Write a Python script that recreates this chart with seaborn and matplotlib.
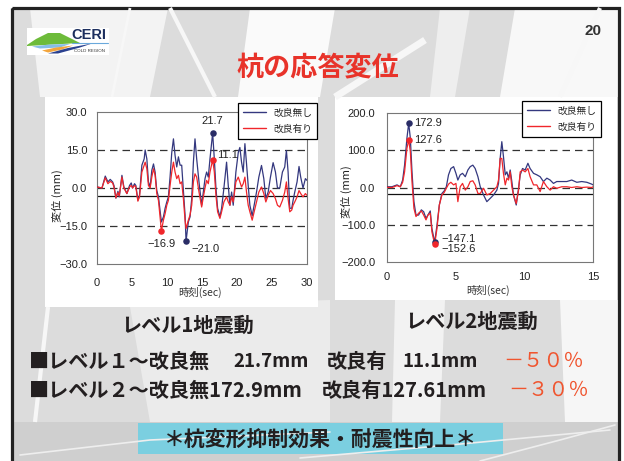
import numpy as np
import pandas as pd
import matplotlib
matplotlib.use("Agg")
import matplotlib.pyplot as plt
import seaborn as sns
from matplotlib.patches import Polygon, Rectangle
from matplotlib.lines import Line2D

# ---------------- data ----------------
series_names = ["改良無し", "改良有り"]

time_lv1 = [0.00, 0.71, 1.18, 1.56, 1.89, 2.23, 2.42, 2.70, 2.99, 3.18, 3.56, 3.84, 4.27, 4.65, 4.89,
            5.08, 5.36, 5.55, 5.84, 6.07, 6.41, 6.74, 6.88, 7.12, 7.35, 7.59, 7.83, 8.07, 8.30, 8.54,
            8.78, 9.20, 9.49, 9.73, 9.97, 10.20, 10.44, 10.68, 10.92, 11.15, 11.39, 11.63, 11.87,
            12.10, 12.34, 12.58, 12.72, 13.05, 13.29, 13.53, 13.77, 14.00, 14.24, 14.57,
            14.95, 15.19, 15.43, 15.66, 15.90, 16.14, 16.52, 16.76, 16.99, 17.23, 17.56, 17.80,
            18.13, 18.51, 18.75, 18.99, 19.23, 19.46, 19.84, 20.18, 20.41, 20.65, 20.89, 21.13,
            21.36, 21.60, 21.84, 22.17, 22.45, 22.79, 23.12, 23.50, 23.83, 24.12, 24.45, 24.78,
            25.16, 25.49, 25.78, 26.11, 26.49, 26.82, 27.06, 27.30, 27.54, 27.82, 28.01, 28.25,
            28.58, 28.86, 29.10, 29.43, 29.77, 30.00]
no_improve_lv1 = [0.4, 0, 4.7, 2.4, 3.4, 2.4, 1, -4, -1.3, -3.5, 5, 0.4, -2.2, 1, 2, 0, 1.7, 1, -4.8,
                  -2.9, 9, 11.5, 15, 11.5, 2.4, 0.4, 7, 9.5, 6.3, -1, -3.5, -13.4, -11.4, -8, -5.5,
                  -3.5, 4.4, 14, 19.4, 12.9, 8.3, 12.3, 9, 9, -1, -10.7, -21.0, -13.4, -11.4, -4.2,
                  10.2, 19.4, 11.5, 2.4,
                  -6.8, -1.6, 3.7, 6.3, 4.3, 11.5, 21.7, 11.5, 0, -8, -11.4, -8, 0, 10.2, 1, -6.8,
                  -1.6, -6.8, 6.3, 14, 16, 10.2, 6.3, 17.5, 9.6, 1, -6.8, -11, -6.8, -1.6, 4.3, 8.9,
                  3.7, -4.2, -1.6, 4.3, 10, 6.3, 0, 0, 6.3, 8.3, 14.8, 6.3, -8, -8, -4.9, -1.6, 2.4,
                  8.5, 4.3, 0, 3.7, 3]
improved_lv1 = [0.4, 0, 4, 1.7, 2.6, 2, 0.4, -3.9, -1.8, -3.1, 4.3, 0, -2.2, 0.4, 1, 0, 1, 0.4, -5.2,
                -3.5, 6.3, 9, 10.2, 7.6, 1, 0, 4.3, 7.6, 5, -2.2, -4.9, -16.9, -12.7, -10.1, -6.8,
                -4.9, 1, 6.3, 10.2, 6.3, 3.7, 5, 1.7, 2.4, -4.2, -12.7, -16, -12.7, -10.7, -6.8,
                2.4, 5.6, 4.3, -1.6,
                -7.5, -3.5, 0, 3, 1.7, 6.3, 11.1, 6.3, -2.9, -9.4, -12, -9.4, -5.5, -3.5, -5.5,
                -6.8, -3.5, -5.5, 2.4, 4.3, 2.4, 0.4, 1.7, 4.3, -1.6, -6.8, -9.4, -12.7, -9.4, -5.5,
                -1.6, 0.4, -2.2, -5.5, -2.9, -1, -2.2, -4.2, -6.8, -7.5, -4.9, -1.6, 2.4, -4.2,
                -9.4, -8.7, -6.8, -5.5, -3.5, -1, -2.2, -3.5, -2.2, -2.9]

time_lv2 = [0.00, 0.36, 0.73, 0.97, 1.14, 1.28, 1.45, 1.58, 1.70, 1.82, 1.96, 2.11, 2.30, 2.50, 2.67,
            2.84, 2.98, 3.15, 3.27, 3.47, 3.64, 3.81, 4.00, 4.17, 4.32, 4.48, 4.65, 4.85, 5.02, 5.16,
            5.33, 5.50, 5.70, 5.89, 6.06, 6.25, 6.42, 6.62, 6.79, 7.03, 7.27, 7.52, 7.76, 8.00, 8.12,
            8.24, 8.36, 8.48, 8.61, 8.73, 8.85, 8.97, 9.09, 9.21, 9.41, 9.58, 9.70, 9.87, 10.06,
            10.26, 10.42, 10.67, 10.91, 11.15, 11.39, 11.64, 11.88, 12.12, 12.36, 12.73, 13.09,
            13.45, 13.82, 14.18, 14.55, 14.91, 15.00]
no_improve_lv2 = [2, 2, 7, 2, 20, 60, 132, 172.9, 132, 42,
                  -38, -74, -74, -60, -65, -83, -74, -63, -110, -147.1,
                  -101, -47, -16, -9, 2, 34, 51, 56, 38, 20,
                  34, 38, 29, 47, 56, 60, 51, 29, 2, -20,
                  -38, -29, -20, -7, 11, 78, 123, 83, 34, 42,
                  25, 47, 16, -20, -47, -2, 34, 51, 47, 65,
                  51, 38, 34, 29, 16, 25, 20, 11, 16, 16,
                  16, 20, 14, 16, 14, 9, 7]
improved_lv2 = [0.5, 0, 5, 2, 14, 42, 105, 127.6, 96, 16,
                -56, -78, -69, -63, -74, -87, -74, -69, -119, -152.6,
                -110, -47, -20, -13, -2, 9, 14, 7, 11, -38,
                2, 11, -7, 2, 16, 18, 7, -16, -16, -2,
                -20, -16, -7, 2, 20, 78, 78, 38, 7, 25,
                20, 42, 2, -20, -43, -7, 42, 47, 42, 51,
                29, 7, 7, -11, 16, 2, -7, 2, -2, 2,
                2, 0, 2, 0, 1, 0, 2]

yticks_lv1 = [-30, -15, 0, 15, 30]
xticks_lv1 = [0, 5, 10, 15, 20, 25, 30]
yticks_lv2 = [-200, -100, 0, 100, 200]
xticks_lv2 = [0, 5, 10, 15]
axis_cross_lv1 = -3.2
axis_cross_lv2 = -17.5

title_text = "杭の応答変位"
page_no = "20"
chart_titles = ["レベル1地震動", "レベル2地震動"]
x_label = "時刻(sec)"
y_label = "変位 (mm)"
summary_1 = ["■レベル１～改良無", "21.7mm", "改良有", "11.1mm", "－５０％"]
summary_2 = ["■レベル２～改良無172.9mm", "改良有127.61mm", "－３０％"]
footer_text = "＊杭変形抑制効果・耐震性向上＊"

# ---------------- style ----------------
sns.set_theme(style="white")
plt.rcParams["font.family"] = ["Liberation Sans", "Noto Sans CJK JP"]
JP = ["Noto Sans CJK JP", "DejaVu Sans"]
BLUE = "#34387f"
BLUE_DOT = "#2a2d66"
RED = "#f0262b"
palette = {series_names[0]: BLUE, series_names[1]: RED}

W, H = 624, 461
fig = plt.figure(figsize=(W / 100, H / 100), dpi=100)
fig.patch.set_facecolor("white")

bg = fig.add_axes([0, 0, 1, 1], zorder=0)
bg.set_xlim(0, W)
bg.set_ylim(H, 0)
bg.axis("off")

# slide background
bg.add_patch(Rectangle((11, 8), 608, 414, color="#dcdcdc", lw=0))
for pts, col in [
    ([(30, 8), (168, 8), (150, 97), (40, 97)], "#f3f3f3"),
    ([(250, 8), (335, 8), (320, 97), (238, 97)], "#fafafa"),
    ([(440, 8), (470, 8), (455, 97), (430, 97)], "#eeeeee"),
    ([(515, 8), (619, 8), (619, 97), (500, 97)], "#f8f8f8"),
    ([(130, 307), (330, 300), (330, 422), (150, 422)], "#ebebeb"),
    ([(395, 300), (445, 300), (440, 422), (392, 422)], "#f2f2f2"),
    ([(560, 300), (619, 300), (619, 422), (565, 422)], "#f6f6f6"),
]:
    bg.add_patch(Polygon(pts, closed=True, color=col, lw=0))
for (x0, y0, x1, y1, lw) in [(335, 97, 425, 40, 5), (170, 8, 215, 97, 3), (600, 8, 560, 97, 3),
                             (48, 307, 35, 422, 3), (130, 8, 112, 97, 2)]:
    bg.plot([x0, x1], [y0, y1], color="#f7f7f7", lw=lw, solid_capstyle="butt")
bg.add_patch(Rectangle((11, 422), 608, 40, color="#cfcfcf", lw=0))
for (xs, ys) in [([20, 150, 330], [455, 440, 432]), ([300, 450, 610], [458, 445, 430]),
                 ([480, 560, 615], [461, 440, 425])]:
    bg.plot(xs, ys, color="#eeeeee", lw=1.2)

# white chart panels
bg.add_patch(Rectangle((45, 97), 273, 210, color="white", lw=0))
bg.add_patch(Rectangle((335, 97), 282, 203, color="white", lw=0))

# frame
bg.add_patch(Rectangle((11.5, 8.5), 607.5, 460, fill=False, edgecolor="#222222", lw=2.3))

# logo
bg.add_patch(Rectangle((27, 28), 82, 27, color="white", lw=0))
bg.add_patch(Polygon([(27, 45), (36, 39), (48, 33), (60, 33), (72, 39), (80, 43), (27, 46)],
                     color="#6dbb3a", lw=0))
bg.add_patch(Polygon([(32, 46.5), (50, 44.5), (70, 44), (60, 47.5), (40, 48.5)], color="#86bde8", lw=0))
bg.add_patch(Polygon([(42, 50.5), (56, 47.5), (73, 45.5), (62, 49.5), (48, 52.5)], color="#f3a53c", lw=0))
bg.add_patch(Polygon([(48, 53.5), (68, 48), (92, 43.5), (80, 47.5), (58, 53.5)], color="#2b418f", lw=0))
bg.plot([72, 108], [43, 43], color="#6aa9dc", lw=0.8)
bg.text(89, 35, "CERI", ha="center", va="center", fontsize=10.5, weight="bold", color="#1d2f5e",
        family=["Liberation Sans Narrow", "Liberation Sans"])
bg.text(90, 51, "COLD REGION", ha="center", va="center", fontsize=3.2, color="#333333")

# page number and title
bg.text(593, 31, page_no, ha="center", va="center", fontsize=11, weight="bold", color="#333333")
bg.text(318, 68, title_text, ha="center", va="center", fontsize=19.5, color="#e8332a",
        family=JP, weight="bold")


def fmt(v):
    return f"{v:.1f}".replace("-", "−")


def draw_chart(rect, t, a, b, yt, xt, cross, leg_anchor, xpad, ypad, ann):
    ax = fig.add_axes(rect, zorder=2)
    ax.set_facecolor("white")
    n = len(t)
    df = pd.DataFrame({"t": list(t) + list(t), "v": list(a) + list(b),
                       "s": [series_names[0]] * n + [series_names[1]] * n})
    sns.lineplot(data=df, x="t", y="v", hue="s", palette=palette, estimator=None,
                 linewidth=0.9, ax=ax, zorder=3)
    ax.set_xlim(xt[0], xt[-1])
    ax.set_ylim(yt[0], yt[-1])
    for v in yt[1:-1]:
        ax.axhline(v, color="#333333", lw=0.9, ls=(0, (6, 4)), zorder=1)
    ax.axhline(cross, color="#111111", lw=0.9, zorder=2)
    ax.set_xticks(xt)
    ax.set_xticklabels([str(v) for v in xt])
    ax.set_yticks(yt)
    ax.set_yticklabels([fmt(v) for v in yt])
    ax.tick_params(axis="x", length=0, pad=xpad, labelsize=8, colors="#222222")
    ax.tick_params(axis="y", length=0, pad=ypad, labelsize=8, colors="#222222")
    ax.set_xlabel("")
    ax.set_ylabel("")
    for sp in ax.spines.values():
        sp.set_visible(True)
        sp.set_color("#777777")
        sp.set_linewidth(0.8)
    handles = [Line2D([0], [0], color=BLUE, lw=1), Line2D([0], [0], color=RED, lw=1)]
    leg = ax.legend(handles, series_names, loc="upper right", bbox_to_anchor=leg_anchor,
                    bbox_transform=fig.transFigure, frameon=True, fancybox=False,
                    prop={"family": JP, "size": 7}, handlelength=2.4, handletextpad=0.7,
                    borderpad=0.5, labelspacing=0.6, borderaxespad=0)
    leg.get_frame().set_edgecolor("black")
    leg.get_frame().set_linewidth(0.9)
    leg.get_frame().set_alpha(1)
    leg.set_zorder(10)
    # peak markers
    a_arr, b_arr, t_arr = np.array(a), np.array(b), np.array(t)
    pts = [(t_arr[a_arr.argmax()], a_arr.max(), BLUE_DOT, ann[0]),
           (t_arr[a_arr.argmin()], a_arr.min(), BLUE_DOT, ann[1]),
           (t_arr[b_arr.argmax()], b_arr.max(), RED, ann[2]),
           (t_arr[b_arr.argmin()], b_arr.min(), RED, ann[3])]
    for (x, y, c, (dx, dy, ha, va)) in pts:
        ax.scatter([x], [y], s=22, color=c, zorder=5, linewidths=0)
        ax.annotate(fmt(y), (x, y), xytext=(dx, dy), textcoords="offset points",
                    ha=ha, va=va, fontsize=8, color="#222222", zorder=6)
    return ax


draw_chart([97 / W, 1 - 264 / H, 210 / W, 152 / H], time_lv1, no_improve_lv1, improved_lv1,
           yticks_lv1, xticks_lv1, axis_cross_lv1, (317 / W, 1 - 103 / H), 10, 7,
           [(0, 5, "center", "bottom"), (4, -2, "left", "top"),
            (3, 3.5, "left", "center"), (0, -6, "center", "top")])
draw_chart([387 / W, 1 - 262 / H, 206 / W, 149 / H], time_lv2, no_improve_lv2, improved_lv2,
           yticks_lv2, xticks_lv2, axis_cross_lv2, (601 / W, 1 - 101 / H), 7.5, 8.5,
           [(4, 0, "left", "center"), (5, 2.5, "left", "center"),
            (4, 0, "left", "center"), (5, -3.5, "left", "center")])

# axis labels
for (x, y) in [(200, 292), (488, 290)]:
    bg.text(x, y, x_label, ha="center", va="center", fontsize=7.5, family=JP, color="#333333")
for (x, y) in [(57, 196), (346, 192)]:
    bg.text(x, y, y_label, ha="center", va="center", fontsize=8, family=JP, color="#222222",
            rotation=90)

# chart captions
bg.text(187, 325, chart_titles[0], ha="center", va="center", fontsize=14.5, weight="bold",
        family=JP, color="#231f20")
bg.text(471, 321, chart_titles[1], ha="center", va="center", fontsize=14.5, weight="bold",
        family=JP, color="#231f20")

# summary lines
TXT = "#231f20"
for x, s, fs in zip([29, 233, 327, 402], summary_1[:4], [14.5, 13.5, 14.5, 13.5]):
    bg.text(x, 361, s, ha="left", va="center", fontsize=fs, family=JP, color=TXT, weight="bold")
bg.text(503, 361, summary_1[4], ha="left", va="center", fontsize=14.5, family=JP, color="#f0552f")
for x, s in zip([29, 322], summary_2[:2]):
    bg.text(x, 390, s, ha="left", va="center", fontsize=14.5, family=JP, color=TXT, weight="bold")
bg.text(508, 390, summary_2[2], ha="left", va="center", fontsize=14.5, family=JP, color="#f0552f")

# footer box
bg.add_patch(Rectangle((138, 423), 365, 31, color="#7bcfe0", lw=0))
bg.text(320, 440, footer_text, ha="center", va="center", fontsize=15, family=JP, color="#231f20",
        weight="bold")

fig.savefig("out.png", dpi=100)
